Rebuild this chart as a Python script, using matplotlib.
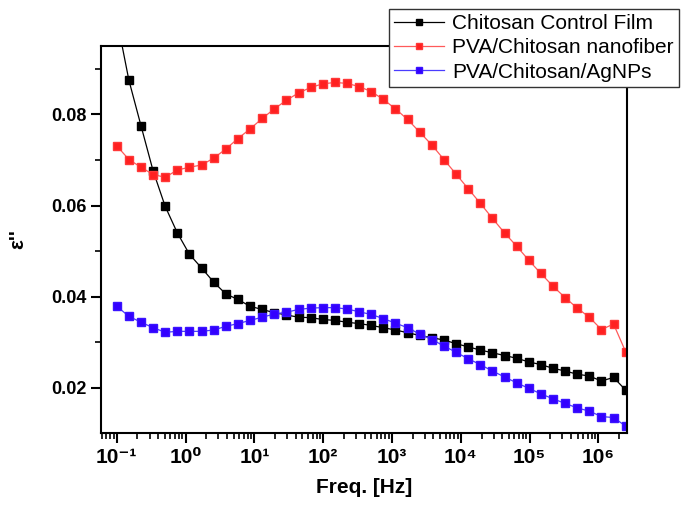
import matplotlib
matplotlib.use("Agg")
import matplotlib.pyplot as plt
from matplotlib.ticker import FixedLocator, LogLocator, NullFormatter, FixedFormatter

plt.rcParams['font.family'] = ['Liberation Sans', 'DejaVu Sans']

freq = [0.1, 0.15, 0.225, 0.3375, 0.506, 0.759, 1.139, 1.709, 2.563, 3.844,
        5.767, 8.65, 12.97, 19.46, 29.19, 43.79, 65.7, 98.5, 147.8, 221.7,
        332.5, 498.8, 748, 1122, 1683, 2525, 3788, 5682, 8523, 12784,
        19176, 28764, 43146, 64719, 97079, 145619, 218428, 327642, 491463, 737195,
        1105792, 1658688, 2488032]

chitosan_film = [0.101, 0.0875, 0.0775, 0.0676, 0.0598, 0.0540, 0.0493, 0.0463, 0.0432, 0.0406,
                 0.0394, 0.0379, 0.0372, 0.0365, 0.0360, 0.0355, 0.0354, 0.0350, 0.0348, 0.0344,
                 0.0341, 0.0337, 0.0332, 0.0327, 0.0321, 0.0315, 0.0310, 0.0305, 0.0297, 0.0290,
                 0.0283, 0.0277, 0.0271, 0.0265, 0.0257, 0.0251, 0.0243, 0.0237, 0.0230, 0.0226,
                 0.0215, 0.0223, 0.0195]

pva_chitosan_nanofiber = [0.0731, 0.0701, 0.0684, 0.0668, 0.0662, 0.0678, 0.0684, 0.0689, 0.0704, 0.0724,
                          0.0747, 0.0768, 0.0791, 0.0812, 0.0831, 0.0847, 0.0859, 0.0867, 0.0870, 0.0868,
                          0.0861, 0.0850, 0.0833, 0.0812, 0.0789, 0.0761, 0.0733, 0.0701, 0.0669, 0.0637,
                          0.0605, 0.0572, 0.0540, 0.0511, 0.0480, 0.0451, 0.0423, 0.0398, 0.0375, 0.0355,
                          0.0328, 0.0340, 0.0279]

pva_chitosan_agnps = [0.0379, 0.0357, 0.0344, 0.0332, 0.0322, 0.0324, 0.0324, 0.0324, 0.0327, 0.0335,
                      0.0341, 0.0348, 0.0355, 0.0362, 0.0366, 0.0372, 0.0375, 0.0376, 0.0376, 0.0373,
                      0.0367, 0.0361, 0.0352, 0.0342, 0.0332, 0.0318, 0.0306, 0.0292, 0.0278, 0.0264,
                      0.0251, 0.0237, 0.0224, 0.0211, 0.0199, 0.0187, 0.0176, 0.0166, 0.0156, 0.0149,
                      0.0137, 0.0135, 0.0116]

labels = ["Chitosan Control Film", "PVA/Chitosan nanofiber", "PVA/Chitosan/AgNPs"]
x_ticks = [1e-1, 1e0, 1e1, 1e2, 1e3, 1e4, 1e5, 1e6]
x_ticklabels = ["10⁻¹", "10⁰", "10¹", "10²", "10³", "10⁴", "10⁵", "10⁶"]
y_ticks = [0.02, 0.04, 0.06, 0.08]
y_ticklabels = ["0.02", "0.04", "0.06", "0.08"]

fig = plt.figure(figsize=(6.91, 5.08), dpi=100)
ax = fig.add_axes([101/691, 1-433/508, (627-101)/691, (433-46)/508])

ax.plot(freq, chitosan_film, color='black', lw=0.9, marker='s', ms=6,
        mfc='black', mec='black', label=labels[0])
ax.plot(freq, pva_chitosan_nanofiber, color='#ff5a5a', lw=0.9, marker='s', ms=6,
        mfc='#ff2020', mec='#ff3838', label=labels[1])
ax.plot(freq, pva_chitosan_agnps, color='#4a3cff', lw=0.9, marker='s', ms=6,
        mfc='#3300ff', mec='#3a14ff', label=labels[2])

ax.set_xscale('log')
ax.set_xlim(0.059, 2.6e6)
ax.set_ylim(0.0101, 0.095)

ax.xaxis.set_major_locator(FixedLocator(x_ticks))
ax.xaxis.set_major_formatter(FixedFormatter(x_ticklabels))
ax.xaxis.set_minor_locator(LogLocator(base=10, subs=[2, 3, 4, 5, 6, 7, 8, 9], numticks=20))
ax.xaxis.set_minor_formatter(NullFormatter())
ax.yaxis.set_major_locator(FixedLocator(y_ticks))
ax.yaxis.set_major_formatter(FixedFormatter(y_ticklabels))
ax.yaxis.set_minor_locator(FixedLocator([0.03, 0.05, 0.07, 0.09]))

for sp in ax.spines.values():
    sp.set_linewidth(1.5)

ax.tick_params(axis='both', which='major', direction='out', length=7, width=1.5,
               labelsize=13, top=False, right=False)
ax.tick_params(axis='x', which='major', labelsize=15, pad=4)
ax.tick_params(axis='both', which='minor', direction='out', length=4, width=1.2,
               top=False, right=False)
for lab in ax.get_yticklabels() + ax.get_xticklabels():
    lab.set_fontweight('bold')

ax.set_xlabel("Freq. [Hz]", fontsize=15, fontweight='bold', labelpad=8)
ax.set_ylabel("ε''", fontsize=15, fontweight='bold')
ax.yaxis.set_label_coords(-0.14, 0.5)

leg = fig.legend(loc='upper right', bbox_to_anchor=(679/691, 1-9/508), borderaxespad=0,
                 fontsize=15, frameon=True, fancybox=False, framealpha=1,
                 edgecolor='#333333', handlelength=2.4, handletextpad=0.4,
                 labelspacing=0.25, borderpad=0.25, markerscale=0.75)
leg.get_frame().set_linewidth(1.0)

fig.savefig("out.png", dpi=100)
